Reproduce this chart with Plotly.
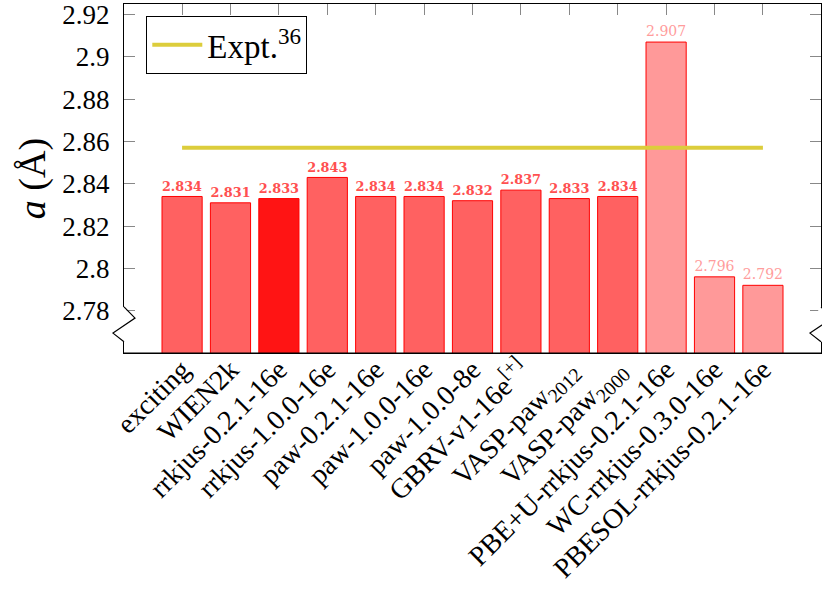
import plotly.graph_objects as go

categories = ["exciting", "WIEN2k", "rrkjus-0.2.1-16e", "rrkjus-1.0.0-16e",
              "paw-0.2.1-16e", "paw-1.0.0-16e", "paw-1.0.0-8e",
              "GBRV-v1-16e<sup>[+]</sup>", "VASP-paw<sub>2012</sub>",
              "VASP-paw<sub>2000</sub>", "PBE+U-rrkjus-0.2.1-16e",
              "WC-rrkjus-0.3.0-16e", "PBESOL-rrkjus-0.2.1-16e"]
values = [2.834, 2.831, 2.833, 2.843, 2.834, 2.834, 2.832, 2.837, 2.833,
          2.834, 2.907, 2.796, 2.792]
expt = 2.857
ytick_vals = [2.78, 2.80, 2.82, 2.84, 2.86, 2.88, 2.90, 2.92]
ytick_text = ["2.78", "2.8", "2.82", "2.84", "2.86", "2.88", "2.9", "2.92"]

x = list(range(len(categories)))
fill = ["#ff6161"] * 13
fill[2] = "#ff1414"
for i in (10, 11, 12):
    fill[i] = "#ff9999"
label_col = ["#ff5050"] * 10 + ["#ff9c9c"] * 3
labels = [f"<b>{v:.3f}</b>" if i < 10 else f"{v:.3f}" for i, v in enumerate(values)]

font = "Liberation Serif"
fig = go.Figure()
fig.add_trace(go.Bar(
    x=x, y=values, width=0.83,
    marker=dict(color=fill, line=dict(color="#ff0000", width=1)),
    text=labels, textposition="outside",
    textfont=dict(family="DejaVu Serif", size=14, color=label_col),
    cliponaxis=False, showlegend=False, hoverinfo="skip"))
fig.add_trace(go.Scatter(
    x=[x[0], x[-1]], y=[expt, expt], mode="lines",
    line=dict(color="#dccd3c", width=4), name="Expt.<sup>36</sup>"))

fig.update_layout(
    width=822, height=594,
    margin=dict(l=124, r=1, t=4, b=241),
    plot_bgcolor="white", paper_bgcolor="white",
    font=dict(family=font, color="black"),
    xaxis=dict(range=[-1.2, 13.2], tickvals=x, ticktext=categories,
               tickangle=-45, tickfont=dict(size=28), ticks="inside",
               ticklen=11, tickcolor="#888", layer="below traces",
               ticklabelstandoff=-12,
               showline=True, linecolor="black", linewidth=1.2, mirror="ticks",
               showgrid=False, zeroline=False, automargin=False),
    yaxis=dict(range=[2.76, 2.925], tickvals=ytick_vals, ticktext=ytick_text,
               tickfont=dict(size=27), ticks="inside", ticklen=11,
               tickcolor="#888", showline=True, linecolor="black",
               linewidth=1.2, mirror="ticks", showgrid=False, zeroline=False,
               ticklabelstandoff=8, automargin=False,
               title=dict(text="<i>a</i> (Å)", font=dict(size=38), standoff=4)),
    legend=dict(x=0.032, y=0.966, xanchor="left", yanchor="top",
                bordercolor="black", borderwidth=1, bgcolor="white",
                itemwidth=50, font=dict(size=33, family=font)),
)

# bottom axis line redrawn on top of the bars
fig.add_shape(type="line", xref="paper", yref="paper", x0=0, x1=1, y0=0, y1=0,
              line=dict(color="black", width=1.2), layer="above")

# broken-axis zigzags on both vertical axes
for xp in (0.0, 1.0):
    fig.add_shape(type="rect", xref="paper", yref="paper",
                  x0=xp - 0.004, x1=xp + 0.004, y0=0.032, y1=0.132,
                  fillcolor="white", line=dict(width=0), layer="above")
    xs = [xp, xp + 0.0158, xp - 0.0158, xp]
    ys = [0.132, 0.100, 0.057, 0.032]
    path = "M " + " L ".join(f"{a},{b}" for a, b in zip(xs, ys))
    fig.add_shape(type="path", xref="paper", yref="paper", path=path,
                  line=dict(color="black", width=1.2), layer="above")

fig.write_html("out.html", config={"displayModeBar": False},
               post_script="document.body.style.margin='0';")
